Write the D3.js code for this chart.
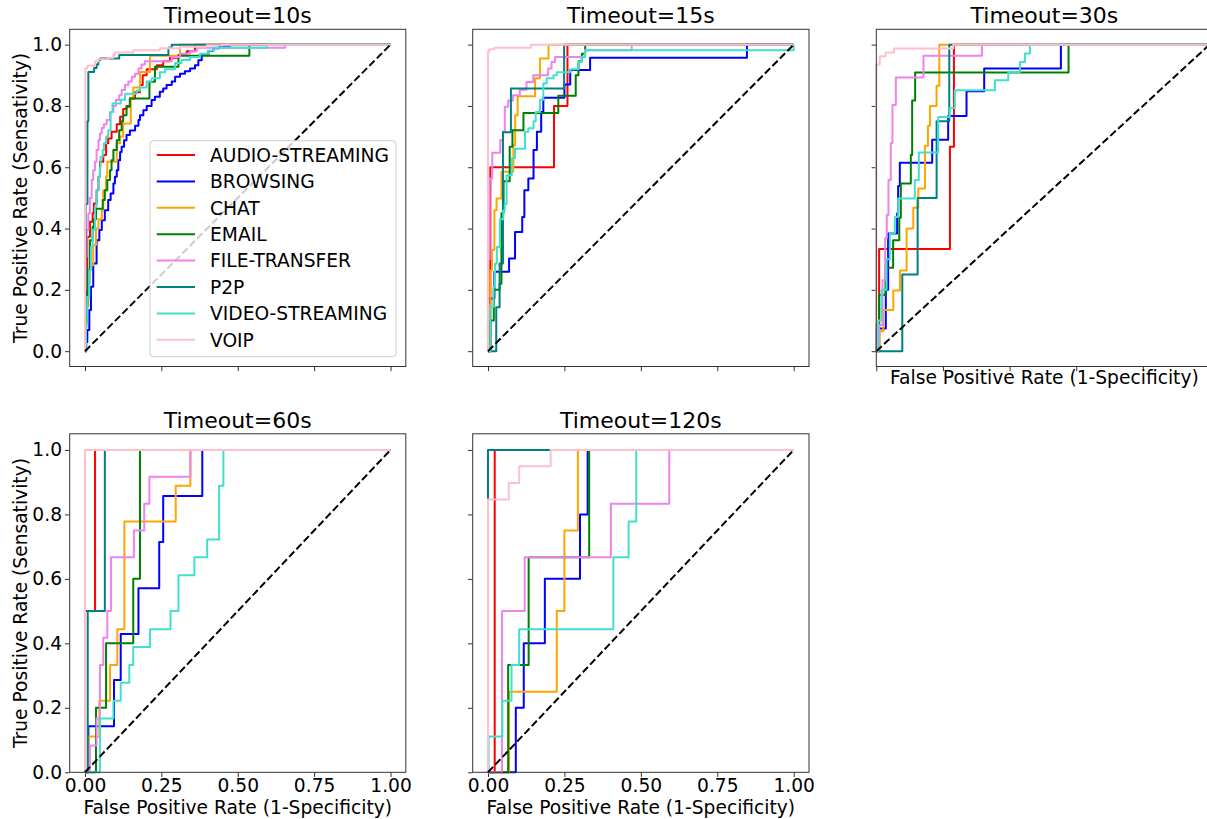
<!DOCTYPE html>
<html>
<head>
<meta charset="utf-8">
<script src="https://cdn.jsdelivr.net/npm/d3@7"></script>
<style>
  body { margin: 0; background: #fff; }
  svg { display: block; font-family: "DejaVu Sans", sans-serif; }
</style>
</head>
<body>
<div id="chart"></div>
<script>
const classes = ['AUDIO-STREAMING', 'BROWSING', 'CHAT', 'EMAIL', 'FILE-TRANSFER', 'P2P', 'VIDEO-STREAMING', 'VOIP']
const colors = ['red', 'blue', 'orange', 'green', 'violet', 'teal', 'turquoise', 'pink']
const titles = ['Timeout=10s', 'Timeout=15s', 'Timeout=30s', 'Timeout=60s', 'Timeout=120s']
const xTicks = [0, 0.25, 0.5, 0.75, 1]
const xTicksFine = [0, 0.2, 0.4, 0.6, 0.8, 1]
const yTicks = [0, 0.2, 0.4, 0.6, 0.8, 1]

// each point = [fpr, tpr] : at fpr the curve rises to tpr, then runs flat to the next fpr
const roc10 = [
  [[0,0],[0.003,0.2],[0.0076,0.373],[0.0164,0.422],[0.025,0.45],[0.029,0.482],[0.038,0.525],[0.044,0.569],[0.049,0.618],[0.06,0.64],[0.069,0.678],[0.076,0.694],[0.087,0.716],[0.104,0.74],[0.115,0.765],[0.125,0.79],[0.136,0.8],[0.147,0.824],[0.164,0.845],[0.18,0.868],[0.189,0.9],[0.202,0.92],[0.235,0.933],[0.256,0.946],[0.278,0.957],[0.306,0.966],[0.333,0.978],[0.36,1],[1,1]],
  [[0,0],[0.004,0.03],[0.0076,0.069],[0.0142,0.134],[0.0196,0.21],[0.027,0.286],[0.038,0.362],[0.047,0.395],[0.055,0.427],[0.065,0.46],[0.076,0.493],[0.084,0.514],[0.093,0.547],[0.098,0.569],[0.104,0.59],[0.109,0.623],[0.115,0.65],[0.12,0.667],[0.128,0.688],[0.136,0.705],[0.147,0.72],[0.164,0.735],[0.175,0.754],[0.18,0.77],[0.191,0.786],[0.202,0.8],[0.218,0.819],[0.229,0.83],[0.245,0.846],[0.256,0.857],[0.267,0.868],[0.284,0.88],[0.295,0.895],[0.311,0.905],[0.327,0.913],[0.344,0.922],[0.36,0.933],[0.371,0.949],[0.382,0.966],[0.404,0.979],[0.42,0.988],[0.44,0.996],[0.475,1],[1,1]],
  [[0,0],[0.003,0.08],[0.0055,0.145],[0.011,0.22],[0.016,0.28],[0.027,0.346],[0.036,0.4],[0.044,0.43],[0.055,0.46],[0.06,0.525],[0.069,0.57],[0.073,0.618],[0.104,0.678],[0.115,0.7],[0.125,0.743],[0.15,0.824],[0.158,0.86],[0.18,0.911],[0.213,0.964],[0.311,1],[1,1]],
  [[0,0],[0.003,0.15],[0.0076,0.264],[0.0164,0.362],[0.025,0.405],[0.029,0.43],[0.036,0.465],[0.058,0.493],[0.065,0.525],[0.073,0.558],[0.082,0.59],[0.087,0.623],[0.093,0.656],[0.104,0.688],[0.112,0.721],[0.12,0.75],[0.125,0.77],[0.136,0.797],[0.147,0.824],[0.211,0.879],[0.229,0.928],[0.306,0.964],[0.538,1],[1,1]],
  [[0,0],[0,0.2],[0.003,0.308],[0.0055,0.395],[0.011,0.449],[0.016,0.5],[0.022,0.558],[0.027,0.59],[0.033,0.618],[0.038,0.656],[0.044,0.688],[0.049,0.71],[0.055,0.728],[0.062,0.74],[0.071,0.754],[0.082,0.78],[0.093,0.8],[0.101,0.819],[0.112,0.835],[0.12,0.852],[0.131,0.868],[0.142,0.88],[0.153,0.895],[0.164,0.905],[0.175,0.922],[0.185,0.935],[0.196,0.946],[0.284,0.96],[0.311,0.97],[0.344,0.978],[0.366,0.99],[0.655,1],[1,1]],
  [[0,0],[0.002,0.48],[0.008,0.75],[0.011,0.911],[0.03,0.924],[0.038,0.935],[0.044,0.949],[0.05,0.955],[0.112,0.966],[0.273,0.99],[0.284,1],[1,1]],
  [[0,0],[0.003,0.09],[0.0076,0.177],[0.0142,0.264],[0.0196,0.34],[0.025,0.395],[0.033,0.47],[0.038,0.525],[0.044,0.569],[0.049,0.6],[0.051,0.634],[0.058,0.656],[0.062,0.678],[0.069,0.7],[0.076,0.721],[0.084,0.78],[0.09,0.808],[0.117,0.82],[0.131,0.84],[0.169,0.85],[0.18,0.86],[0.202,0.88],[0.218,0.89],[0.245,0.91],[0.262,0.92],[0.295,0.94],[0.316,0.95],[0.344,0.96],[0.376,0.97],[0.404,0.98],[0.42,0.99],[0.595,1],[1,1]],
  [[0,0],[0,0.45],[0.001,0.922],[0.008,0.931],[0.033,0.946],[0.044,0.952],[0.076,0.957],[0.093,0.966],[0.098,0.974],[0.158,0.982],[0.245,0.988],[0.311,0.993],[0.398,0.998],[0.45,1],[1,1]]
]

const roc15 = [
  [[0,0],[0.0077,0.6],[0.216,0.8],[0.26,1],[1,1]],
  [[0,0],[0.002,0.172],[0.021,0.259],[0.069,0.302],[0.0885,0.389],[0.112,0.438],[0.119,0.525],[0.132,0.563],[0.149,0.656],[0.16,0.716],[0.174,0.78],[0.181,0.827],[0.25,0.87],[0.269,0.917],[0.334,0.957],[0.847,1],[1,1]],
  [[0,0],[0.003,0.15],[0.008,0.264],[0.013,0.33],[0.021,0.46],[0.028,0.498],[0.044,0.585],[0.083,0.672],[0.089,0.77],[0.097,0.832],[0.154,0.89],[0.17,0.955],[0.198,1],[1,1]],
  [[0,0],[0.008,0.1],[0.019,0.2],[0.038,0.22],[0.044,0.45],[0.051,0.554],[0.071,0.667],[0.08,0.721],[0.116,0.777],[0.23,0.833],[0.287,0.9],[0.296,0.946],[0.307,0.97],[0.318,1],[1,1]],
  [[0,0],[0,0.3],[0.0055,0.563],[0.014,0.647],[0.04,0.688],[0.049,0.717],[0.055,0.797],[0.066,0.818],[0.082,0.835],[0.104,0.853],[0.126,0.878],[0.148,0.9],[0.197,0.922],[0.208,0.943],[0.219,0.96],[0.317,0.982],[0.47,1],[1,1]],
  [[0,0],[0.027,0.143],[0.038,0.286],[0.049,0.714],[0.075,0.857],[0.249,1],[1,1]],
  [[0,0],[0.008,0.145],[0.018,0.21],[0.023,0.286],[0.029,0.34],[0.039,0.43],[0.05,0.46],[0.055,0.48],[0.061,0.574],[0.078,0.629],[0.0885,0.66],[0.121,0.716],[0.132,0.727],[0.149,0.75],[0.156,0.78],[0.17,0.82],[0.181,0.873],[0.192,0.89],[0.214,0.9],[0.225,0.91],[0.269,0.92],[0.296,0.944],[0.307,0.96],[0.318,0.982],[1,1]],
  [[0,0],[0,0.978],[0.004,0.985],[0.021,0.99],[0.14,1],[1,1]]
]

const roc30 = [
  [[0,0],[0.0085,0.333],[0.221,0.667],[0.233,1],[1,1]],
  [[0,0],[0,0.074],[0.0285,0.2],[0.0355,0.384],[0.0626,0.45],[0.0656,0.539],[0.0706,0.615],[0.1677,0.69],[0.2157,0.767],[0.2708,0.848],[0.3238,0.922],[0.554,1],[1,1]],
  [[0,0],[0.01,0.065],[0.021,0.134],[0.051,0.198],[0.071,0.263],[0.091,0.4],[0.111,0.468],[0.126,0.531],[0.146,0.67],[0.155,0.735],[0.161,0.8],[0.181,0.866],[0.189,1],[1,1]],
  [[0,0],[0,0.09],[0.0085,0.183],[0.0275,0.272],[0.0505,0.362],[0.069,0.435],[0.0736,0.547],[0.1036,0.64],[0.1076,0.818],[0.1166,0.909],[0.577,1],[1,1]],
  [[0,0],[0.0085,0.085],[0.0185,0.231],[0.0265,0.368],[0.0315,0.444],[0.0365,0.558],[0.0435,0.678],[0.0485,0.803],[0.0586,0.893],[0.1417,0.964],[0.317,1],[1,1]],
  [[0,0],[0.078,0.25],[0.124,0.5],[0.181,0.75],[0.219,1],[1,1]],
  [[0,0],[0.0055,0.1],[0.0155,0.2],[0.0306,0.3],[0.0406,0.384],[0.0556,0.438],[0.0656,0.498],[0.1156,0.558],[0.1276,0.648],[0.1857,0.764],[0.2207,0.793],[0.2357,0.851],[0.356,0.884],[0.396,0.911],[0.431,0.943],[0.446,0.971],[0.461,1],[1,1]],
  [[0,0],[0,0.935],[0.0105,0.962],[0.0275,0.974],[0.0536,0.987],[0.231,1],[1,1]]
]

const roc60 = [
  [[0,0],[0,0.5],[0.033,1],[1,1]],
  [[0,0],[0.011,0.143],[0.095,0.286],[0.117,0.429],[0.175,0.571],[0.243,0.714],[0.256,0.857],[0.384,1],[1,1]],
  [[0,0],[0.011,0.111],[0.047,0.222],[0.082,0.333],[0.106,0.444],[0.129,0.778],[0.297,0.889],[0.345,1],[1,1]],
  [[0,0],[0.036,0.2],[0.069,0.4],[0.158,0.6],[0.18,1],[1,1]],
  [[0,0],[0.016,0.083],[0.038,0.167],[0.049,0.333],[0.06,0.417],[0.073,0.5],[0.085,0.667],[0.16,0.75],[0.194,0.833],[0.211,0.917],[0.345,1],[1,1]],
  [[0,0],[0.009,0.5],[0.065,1],[1,1]],
  [[0,0],[0.049,0.056],[0.049,0.167],[0.093,0.222],[0.117,0.278],[0.145,0.333],[0.158,0.389],[0.213,0.444],[0.28,0.5],[0.306,0.611],[0.358,0.667],[0.4,0.722],[0.439,0.889],[0.453,1],[1,1]],
  [[0,0],[0,1],[1,1]]
]

const roc120 = [
  [[0,0],[0.022,1],[1,1]],
  [[0,0],[0.091,0.2],[0.117,0.4],[0.186,0.6],[0.301,0.8],[0.326,1],[1,1]],
  [[0,0],[0.069,0.25],[0.225,0.5],[0.25,0.75],[0.294,1],[1,1]],
  [[0,0],[0.066,0.333],[0.133,0.667],[0.331,1],[1,1]],
  [[0,0],[0.046,0.5],[0.12,0.667],[0.402,0.833],[0.593,1],[1,1]],
  [[0,0],[0,1],[1,1]],
  [[0,0],[0.002,0.111],[0.047,0.222],[0.077,0.333],[0.102,0.444],[0.41,0.667],[0.46,0.778],[0.485,1],[1,1]],
  [[0,0],[0,0.846],[0.068,0.897],[0.102,0.949],[0.205,1],[1,1]]
]

const W = 1207, H = 819
const fs = 18.67

const svg = d3.select('#chart').append('svg')
  .attr('width', W).attr('height', H)

// frame boxes and axis ranges for each subplot
const panels = [
  { data: roc10, title: titles[0], l: 69.7, r: 405.8, t: 29.3, b: 366.5, xd: [-0.05, 1.05], yd: [-0.05, 1.05], xt: xTicks, yLab: true, xLab: false, xTitle: false, legend: true },
  { data: roc15, title: titles[1], l: 472.7, r: 809, t: 29.3, b: 366.5, xd: [-0.05, 1.05], yd: [-0.05, 1.05], xt: xTicks, yLab: false, xLab: false, xTitle: false },
  { data: roc30, title: titles[2], l: 876.3, r: 1212.5, t: 29.3, b: 366.5, xd: [0, 1.009], yd: [-0.05, 1.05], xt: xTicksFine, yLab: false, xLab: false, xTitle: true },
  { data: roc60, title: titles[3], l: 69.7, r: 405.8, t: 433.8, b: 772.3, xd: [-0.05, 1.05], yd: [0, 1.05], xt: xTicks, yLab: true, xLab: true, xTitle: true },
  { data: roc120, title: titles[4], l: 472.7, r: 809, t: 433.8, b: 772.3, xd: [-0.05, 1.05], yd: [0, 1.05], xt: xTicks, yLab: false, xLab: true, xTitle: true }
]

panels.forEach(p => {
  const x = d3.scaleLinear().domain(p.xd).range([p.l, p.r])
  const y = d3.scaleLinear().domain(p.yd).range([p.b, p.t])
  const g = svg.append('g')

  const xAxis = d3.axisBottom(x).tickValues(p.xt).tickSize(4.7).tickPadding(2)
    .tickFormat(p.xLab ? d3.format('.2f') : '')
  const yAxis = d3.axisLeft(y).tickValues(yTicks).tickSize(4.7).tickPadding(3)
    .tickFormat(p.yLab ? d3.format('.1f') : '')

  g.append('g').attr('transform', 'translate(0,' + p.b + ')').call(xAxis)
  g.append('g').attr('transform', 'translate(' + p.l + ',0)').call(yAxis)
  g.selectAll('.domain').remove()
  g.selectAll('.tick line').attr('stroke', '#333').attr('stroke-width', 1)
  g.selectAll('.tick text').attr('font-size', fs).attr('fill', '#000')
    .attr('font-family', '"DejaVu Sans", sans-serif')

  const line = d3.line().x(d => x(d[0])).y(d => y(d[1])).curve(d3.curveStepAfter)

  g.selectAll('.roc').data(p.data).enter().append('path')
    .attr('class', 'roc')
    .attr('d', line)
    .attr('fill', 'none')
    .attr('stroke', (d, i) => colors[i])
    .attr('stroke-width', 2)
    .attr('stroke-linejoin', 'round')

  g.append('path')
    .attr('d', d3.line().x(d => x(d[0])).y(d => y(d[1]))([[0, 0], [1, 1]]))
    .attr('fill', 'none').attr('stroke', '#000').attr('stroke-width', 2)
    .attr('stroke-dasharray', '7.4,3.2')

  g.append('rect')
    .attr('x', p.l).attr('y', p.t).attr('width', p.r - p.l).attr('height', p.b - p.t)
    .attr('fill', 'none').attr('stroke', '#333').attr('stroke-width', 1)

  g.append('text')
    .attr('x', (p.l + p.r) / 2).attr('y', p.t - 6)
    .attr('text-anchor', 'middle').attr('font-size', 22)
    .text(p.title)

  if (p.yLab) {
    g.append('text')
      .attr('transform', 'translate(27,' + (p.t + p.b) / 2 + ') rotate(-90)')
      .attr('text-anchor', 'middle').attr('font-size', fs)
      .text('True Positive Rate (Sensativity)')
  }
  if (p.xTitle) {
    g.append('text')
      .attr('x', (p.l + p.r) / 2).attr('y', p.xLab ? p.b + 42 : p.b + 17.3)
      .attr('text-anchor', 'middle').attr('font-size', fs)
      .text('False Positive Rate (1-Specificity)')
  }

  if (p.legend) {
    const lg = g.append('g').attr('transform', 'translate(150,140.7)')
    lg.append('rect').attr('width', 246).attr('height', 216).attr('rx', 3.5)
      .attr('fill', '#fff').attr('fill-opacity', 0.8)
      .attr('stroke', '#ccc').attr('stroke-width', 1)
    const rows = lg.selectAll('.row').data(classes).enter().append('g')
      .attr('transform', (d, i) => 'translate(0,' + (14.3 + i * 26.4) + ')')
    rows.append('line').attr('x1', 6.7).attr('x2', 45).attr('y1', 0).attr('y2', 0)
      .attr('stroke', (d, i) => colors[i]).attr('stroke-width', 2)
    rows.append('text').attr('x', 60).attr('y', 6.8).attr('font-size', fs)
      .text(d => d)
  }
})
</script>
</body>
</html>
